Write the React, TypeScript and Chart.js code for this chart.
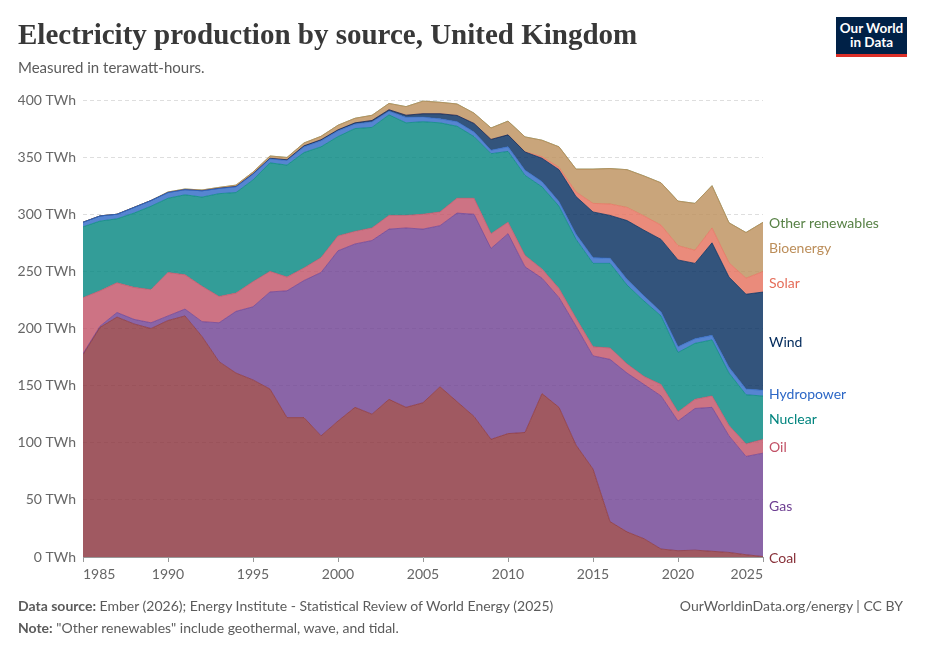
import React, { useEffect, useRef } from "react";
import { Chart, registerables } from "chart.js";

Chart.register(...registerables);

const years = [
  1985, 1986, 1987, 1988, 1989, 1990, 1991, 1992, 1993, 1994,
  1995, 1996, 1997, 1998, 1999, 2000, 2001, 2002, 2003, 2004,
  2005, 2006, 2007, 2008, 2009, 2010, 2011, 2012, 2013, 2014,
  2015, 2016, 2017, 2018, 2019, 2020, 2021, 2022, 2023, 2024, 2025,
];

const coal = [177, 201, 210, 204, 200, 207, 211, 193, 171, 161, 155, 147, 122, 122, 106, 119, 131, 125, 138, 131,
  135, 149, 136, 123, 103, 108, 109, 143, 131, 98, 77, 31, 22, 16, 7, 5.5, 6, 5, 4, 2, 0.4];
const gas = [1, 1, 4, 4, 5, 4, 6, 13, 34, 54, 64, 85, 111, 120, 143, 149, 143, 152, 149, 157,
  152, 141, 165, 177, 167, 175, 145, 101, 96, 104, 99, 142, 139, 135, 134, 113.5, 124, 126, 102, 86, 90.5];
const oil = [49, 31, 26, 28, 29, 38, 30, 31, 23, 16, 22, 18, 12, 11, 13, 13, 11, 11, 12, 11,
  13, 12, 13, 14, 13, 10, 10, 8, 8, 7, 8, 10, 8, 7, 10, 8, 8, 10, 9, 11, 12];
const nuclear = [62, 61, 56, 65, 73, 65, 70, 78, 90, 88, 89, 95, 98, 101, 97, 87, 90, 88, 88, 81,
  81, 78, 63, 54, 70, 62, 70, 72, 72, 69, 73, 74, 69, 66, 60, 52, 49, 49, 46, 43, 38];
const hydropower = [4, 4.5, 4, 5, 5, 5, 4.5, 5.5, 4.5, 5, 5, 3.5, 4, 5, 5.3, 5, 4, 4.8, 3.2, 4.8,
  4, 3.5, 4, 4, 3, 4, 4.5, 4.5, 4, 4.5, 5, 4.5, 5, 4.5, 3.5, 5, 4, 4, 5, 5, 5];
const wind = [0, 0, 0, 0, 0, 0, 0.01, 0.03, 0.2, 0.3, 0.4, 0.5, 0.7, 0.9, 0.9, 0.9, 1, 1.3, 1.3, 1.9,
  3, 4.5, 5.5, 7.5, 9.5, 10.5, 16, 20.5, 28, 33, 40, 37.5, 51.5, 57.5, 63.5, 76, 66, 81, 79, 83, 86];
const solar = [0, 0, 0, 0, 0, 0, 0, 0, 0, 0, 0, 0, 0, 0, 0, 0, 0, 0, 0, 0,
  0, 0, 0, 0, 0, 0, 0.2, 1.3, 2, 4, 7.5, 10, 11.5, 12.5, 12.5, 12.5, 11.5, 13, 12.5, 14, 18];
const bioenergy = [0, 0, 0, 0, 0, 0.5, 0.6, 0.7, 0.8, 1.2, 1.5, 2, 2, 2.5, 3, 4, 4, 4.5, 5.5, 7.5,
  11, 10, 10, 9, 10, 12, 13, 14.5, 18, 20, 30, 31, 33, 35, 37, 39, 41, 37, 35, 40, 43];
const otherRenewables = [0, 0, 0, 0, 0, 0, 0, 0, 0, 0, 0, 0, 0, 0, 0, 0, 0, 0, 0, 0,
  0.01, 0.01, 0.01, 0.01, 0.01, 0.01, 0.01, 0.01, 0.01, 0.01, 0.01, 0.01, 0.01, 0.01, 0.01, 0.01, 0.01, 0.01, 0.01, 0.01, 0.01];

const seriesNames = ["Coal", "Gas", "Oil", "Nuclear", "Hydropower", "Wind", "Solar", "Bioenergy", "Other renewables"];
const seriesValues = [coal, gas, oil, nuclear, hydropower, wind, solar, bioenergy, otherRenewables];
const seriesColors = ["#883039", "#6D3E91", "#C15065", "#00847E", "#2C67C6", "#00295B", "#E56E5A", "#BC8E5A", "#578145"];

const yTicks = [0, 50, 100, 150, 200, 250, 300, 350, 400];
const xTicks = [1985, 1990, 1995, 2000, 2005, 2010, 2015, 2020, 2025];

function hexToRgba(hex: string, a: number) {
  const n = parseInt(hex.slice(1), 16);
  return `rgba(${(n >> 16) & 255},${(n >> 8) & 255},${n & 255},${a})`;
}

const endLabels = {
  id: "endLabels",
  afterDatasetsDraw(chart: any) {
    const { ctx, chartArea, scales } = chart;
    const items: { y: number; text: string; color: string }[] = [];
    let prevTop = scales.y.getPixelForValue(0);
    chart.data.datasets.forEach((ds: any, i: number) => {
      const meta = chart.getDatasetMeta(i);
      const pt = meta.data[meta.data.length - 1];
      const top = pt.y;
      items.push({ y: (top + prevTop) / 2 + 1.5, text: ds.label, color: seriesColors[i] });
      prevTop = top;
    });
    const gap = 16;
    for (let i = 1; i < items.length; i++) {
      if (items[i - 1].y - items[i].y < gap) items[i].y = items[i - 1].y - gap;
    }
    ctx.save();
    ctx.font = "14px Lato";
    ctx.textAlign = "left";
    ctx.textBaseline = "middle";
    items.forEach((it) => {
      ctx.fillStyle = it.color;
      ctx.fillText(it.text, chartArea.right + 6, it.y);
    });
    ctx.restore();
  },
};

export default function App() {
  const canvasRef = useRef<HTMLCanvasElement | null>(null);

  useEffect(() => {
    if (!canvasRef.current) return;
    Chart.defaults.font.family = "Lato";
    const datasets = seriesNames.map((name, i) => ({
      label: name,
      data: years.map((yr, j) => ({ x: yr, y: seriesValues[i][j] })),
      backgroundColor: hexToRgba(seriesColors[i], 0.8),
      borderColor: seriesColors[i],
      borderWidth: 0.7,
      pointRadius: 0,
      fill: i === 0 ? "origin" : "-1",
      tension: 0,
    }));
    const chart = new Chart(canvasRef.current, {
      type: "line",
      data: { datasets },
      plugins: [endLabels],
      options: {
        animation: false,
        responsive: true,
        maintainAspectRatio: false,
        layout: { padding: { left: 18, right: 162, top: 100, bottom: 67 } },
        plugins: { legend: { display: false }, tooltip: { enabled: false } },
        scales: {
          x: {
            type: "linear",
            min: 1985,
            max: 2025,
            afterBuildTicks: (scale: any) => {
              scale.ticks = xTicks.map((v) => ({ value: v }));
            },
            afterFit: (scale: any) => {
              scale.height = 30;
            },
            ticks: {
              align: "inner",
              padding: 4,
              color: "#666",
              font: { size: 14 },
              callback: (v: any) => String(v),
              maxRotation: 0,
            },
            grid: { drawOnChartArea: false, drawTicks: true, tickLength: 5, color: "#999" },
            border: { display: true, color: "#999" },
          },
          y: {
            stacked: true,
            min: 0,
            max: 400,
            z: 1,
            afterBuildTicks: (scale: any) => {
              scale.ticks = yTicks.map((v) => ({ value: v }));
            },
            afterFit: (scale: any) => {
              scale.width = 65;
            },
            ticks: {
              padding: 7,
              color: "#666",
              font: { size: 14 },
              callback: (v: any) => `${v} TWh`,
            },
            grid: { drawTicks: false, color: "rgba(0,0,0,0.13)" },
            border: { display: false, dash: [4, 3] },
          },
        },
      },
    } as any);
    return () => chart.destroy();
  }, []);

  return (
    <div style={{ position: "absolute", left: 0, top: 0, width: 925, height: 654, background: "#fff", fontFamily: "Lato, sans-serif", overflow: "hidden" }}>
      <div style={{ position: "absolute", left: 0, top: 0, width: 925, height: 654 }}>
        <canvas ref={canvasRef} />
      </div>
      <div style={{ position: "absolute", left: 18, top: 20, fontFamily: "'Liberation Serif', serif", fontSize: 29, fontWeight: 700, color: "#383838", lineHeight: 1, whiteSpace: "nowrap" }}>
        Electricity production by source, United Kingdom
      </div>
      <div style={{ position: "absolute", left: 18, top: 60, fontSize: 15, color: "#5b5b5b", lineHeight: 1 }}>
        Measured in terawatt-hours.
      </div>
      <div style={{ position: "absolute", left: 836, top: 17, width: 71, height: 40, background: "#002147", boxSizing: "border-box", borderBottom: "3px solid #dc2f28", color: "#fff", fontSize: 13.5, fontWeight: 700, lineHeight: "14px", textAlign: "center", paddingTop: 4 }}>
        Our World<br />in Data
      </div>
      <div style={{ position: "absolute", left: 18, top: 599, fontSize: 14, color: "#5b5b5b", lineHeight: 1, whiteSpace: "nowrap" }}>
        <b>Data source:</b> Ember (2026); Energy Institute - Statistical Review of World Energy (2025)
      </div>
      <div style={{ position: "absolute", right: 22, top: 599, fontSize: 14, color: "#5b5b5b", lineHeight: 1, whiteSpace: "nowrap" }}>
        OurWorldinData.org/energy | CC BY
      </div>
      <div style={{ position: "absolute", left: 18, top: 621, fontSize: 14, color: "#5b5b5b", lineHeight: 1, whiteSpace: "nowrap" }}>
        <b>Note:</b> "Other renewables" include geothermal, wave, and tidal.
      </div>
    </div>
  );
}
